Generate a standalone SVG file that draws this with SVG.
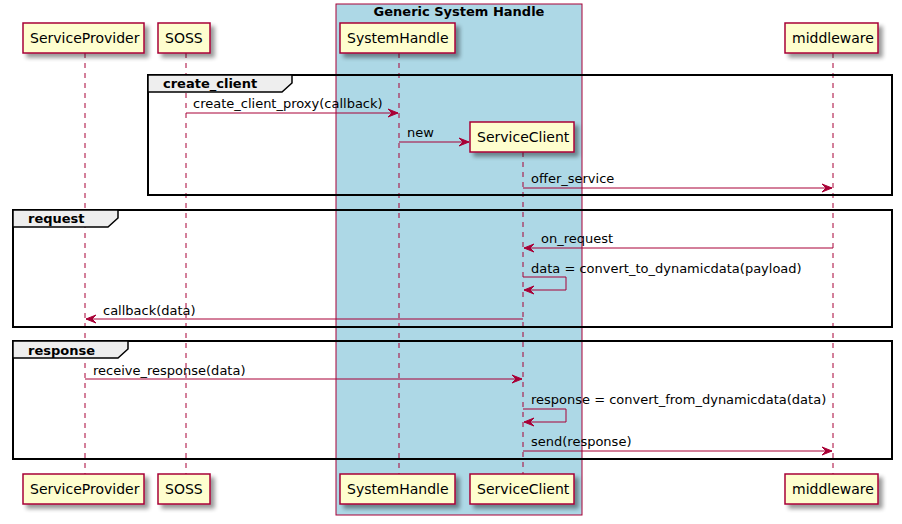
<svg xmlns="http://www.w3.org/2000/svg" width="902" height="524" viewBox="0 0 902 524">
<defs>
<filter id="sh" x="-20%" y="-20%" width="150%" height="160%">
<feGaussianBlur in="SourceAlpha" stdDeviation="2"/>
<feOffset dx="4" dy="4"/>
<feComponentTransfer><feFuncA type="linear" slope="0.4"/></feComponentTransfer>
<feMerge><feMergeNode/><feMergeNode in="SourceGraphic"/></feMerge>
</filter>
<marker id="ah" markerWidth="12" markerHeight="10" refX="10" refY="5" orient="auto" markerUnits="userSpaceOnUse">
<polygon points="0,1 10,5 0,9 4,5" fill="#A80036" stroke="#A80036" stroke-width="1"/>
</marker>
</defs>
<style>
.p rect{fill:#FEFECE;stroke:#A80036;stroke-width:1.5;filter:url(#sh)}
.p text{font-family:"DejaVu Sans",sans-serif;font-size:14px;fill:#000}
.life{stroke:#A80036;stroke-width:1;stroke-dasharray:5,5}
.msg{stroke:#A80036;stroke-width:1;fill:none;marker-end:url(#ah)}
.ml{font-family:"DejaVu Sans",sans-serif;font-size:13px;fill:#000}
.fr{fill:none;stroke:#000;stroke-width:2}
.tab{fill:#EEEEEE;stroke:#000;stroke-width:1.5}
.fl{font-family:"DejaVu Sans",sans-serif;font-size:13px;font-weight:bold;fill:#000}
</style>
<rect width="902" height="524" fill="#fff"/>
<g id="box-generic">
<rect x="336" y="4" width="246" height="511" fill="#ADD8E6" stroke="#A80036" stroke-width="1"/>
<text x="459" y="16" text-anchor="middle" class="fl">Generic System Handle</text>
</g>
<g id="lifelines">
<line class="life" x1="85" y1="53" x2="85" y2="474"/>
<line class="life" x1="186" y1="53" x2="186" y2="474"/>
<line class="life" x1="399" y1="53" x2="399" y2="474"/>
<line class="life" x1="523" y1="152" x2="523" y2="474"/>
<line class="life" x1="833" y1="53" x2="833" y2="474"/>
</g>
<g id="frame-create_client">
<rect class="fr" x="148" y="75" width="744" height="120"/>
<path class="tab" d="M148,75 H292 V83 L282,92 H148 Z"/>
<text class="fl" x="163" y="88">create_client</text>
</g>
<g id="frame-request">
<rect class="fr" x="13" y="210" width="879" height="117"/>
<path class="tab" d="M13,210 H118 V218 L108,227 H13 Z"/>
<text class="fl" x="28" y="223">request</text>
</g>
<g id="frame-response">
<rect class="fr" x="13" y="341" width="879" height="118"/>
<path class="tab" d="M13,341 H128 V349 L118,358 H13 Z"/>
<text class="fl" x="28" y="355">response</text>
</g>
<g id="connectors">
<line class="msg" x1="186" y1="113" x2="398" y2="113"/>
<text class="ml" x="193" y="108">create_client_proxy(callback)</text>
<line class="msg" x1="399" y1="142" x2="469" y2="142"/>
<text class="ml" x="407" y="137">new</text>
<line class="msg" x1="523" y1="188" x2="832" y2="188"/>
<text class="ml" x="531" y="183">offer_service</text>
<line class="msg" x1="833" y1="248" x2="524" y2="248"/>
<text class="ml" x="541" y="243">on_request</text>
<polyline class="msg" points="523,277 566,277 566,290 524,290"/>
<text class="ml" x="531" y="273">data = convert_to_dynamicdata(payload)</text>
<line class="msg" x1="523" y1="319" x2="86" y2="319"/>
<text class="ml" x="103" y="315">callback(data)</text>
<line class="msg" x1="85" y1="379" x2="522" y2="379"/>
<text class="ml" x="93" y="375">receive_response(data)</text>
<polyline class="msg" points="523,409 566,409 566,422 524,422"/>
<text class="ml" x="531" y="404">response = convert_from_dynamicdata(data)</text>
<line class="msg" x1="523" y1="451" x2="832" y2="451"/>
<text class="ml" x="531" y="446">send(response)</text>
</g>
<g id="ServiceProvider" class="p">
<rect x="23" y="23" width="121" height="30"/>
<text x="30" y="43">ServiceProvider</text>
<rect x="23" y="474" width="121" height="30"/>
<text x="30" y="494">ServiceProvider</text>
</g>
<g id="SOSS" class="p">
<rect x="158" y="23" width="52" height="30"/>
<text x="165" y="43">SOSS</text>
<rect x="158" y="474" width="52" height="30"/>
<text x="165" y="494">SOSS</text>
</g>
<g id="SystemHandle" class="p">
<rect x="340" y="23" width="115" height="30"/>
<text x="347" y="43">SystemHandle</text>
<rect x="340" y="474" width="115" height="30"/>
<text x="347" y="494">SystemHandle</text>
</g>
<g id="ServiceClient" class="p">
<rect x="470" y="122" width="104" height="30"/>
<text x="477" y="142">ServiceClient</text>
<rect x="470" y="474" width="104" height="30"/>
<text x="477" y="494">ServiceClient</text>
</g>
<g id="middleware" class="p">
<rect x="785" y="23" width="93" height="30"/>
<text x="792" y="43">middleware</text>
<rect x="785" y="474" width="93" height="30"/>
<text x="792" y="494">middleware</text>
</g>
</svg>
